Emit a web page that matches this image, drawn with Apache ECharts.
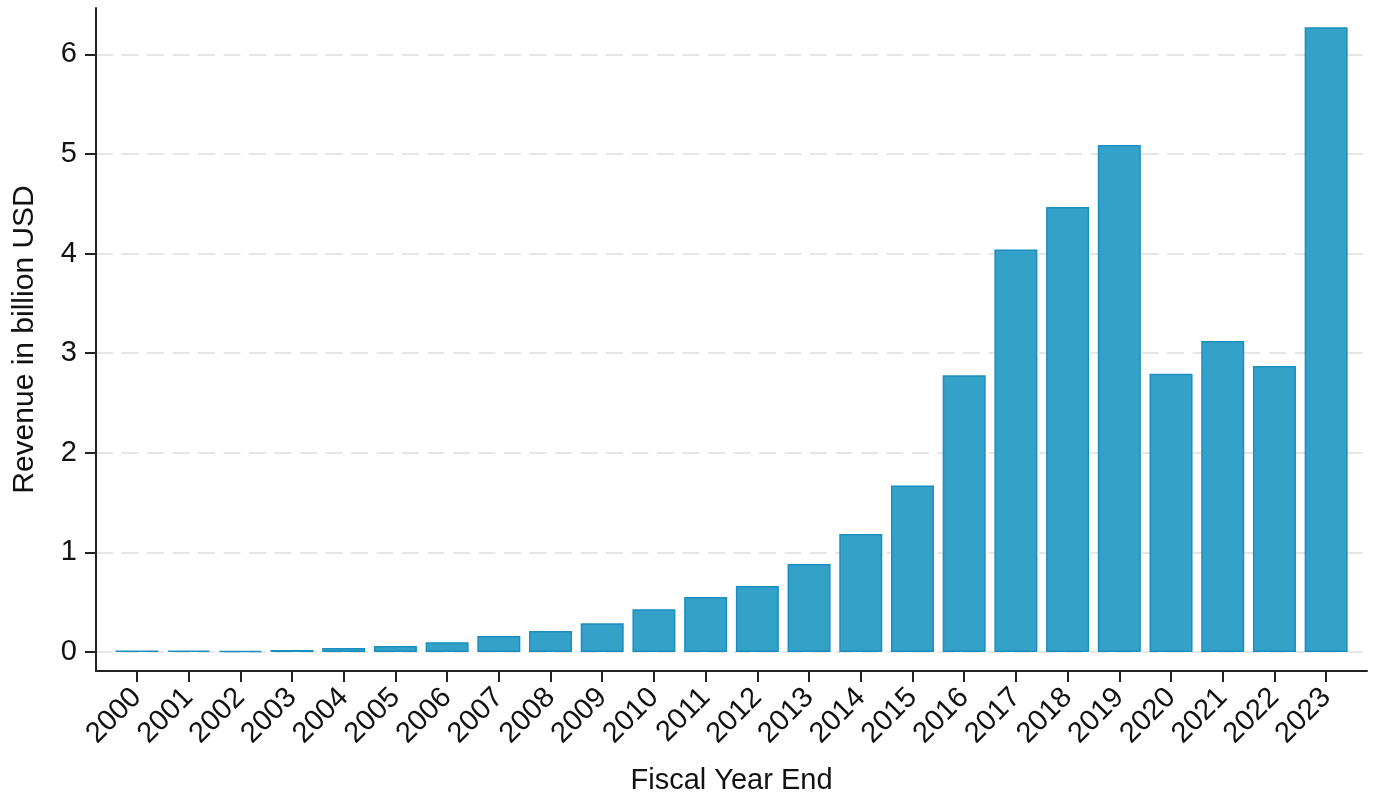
<!DOCTYPE html>
<html>
<head>
<meta charset="utf-8">
<script src="https://cdn.jsdelivr.net/npm/echarts@6/dist/echarts.min.js"></script>
<style>
html,body{margin:0;padding:0;background:#fff;}
#chart{width:1376px;height:797px;}
</style>
</head>
<body>
<div id="chart"></div>
<script>
const years = [2000,2001,2002,2003,2004,2005,2006,2007,2008,2009,2010,2011,2012,2013,2014,2015,2016,2017,2018,2019,2020,2021,2022,2023];
const revenue = [0.016,0.014,0.011,0.019,0.040,0.060,0.097,0.161,0.211,0.288,0.429,0.552,0.663,0.884,1.185,1.671,2.779,4.041,4.468,5.089,2.794,3.123,2.872,6.271];
const yTicks = [0,1,2,3,4,5,6];

const FONT = '"Liberation Sans", Arial, Helvetica, sans-serif';
const chart = echarts.init(document.getElementById('chart'), null, {renderer:'canvas'});
chart.setOption({
  animation:false,
  backgroundColor:'#ffffff',
  grid:{left:96, right:9, top:8, bottom:126, containLabel:false, outerBoundsMode:'none'},
  xAxis:{
    type:'value',
    min:1999.21, max:2023.79,
    name:'Fiscal Year End',
    nameLocation:'middle',
    nameGap:95,
    nameTextStyle:{fontSize:29, color:'#111', fontFamily:FONT},
    axisLine:{onZero:false, lineStyle:{color:'#222', width:2}},
    axisTick:{show:true, length:11, customValues:years, lineStyle:{color:'#222', width:2}},
    axisLabel:{customValues:years, rotate:45, fontSize:29, color:'#111', fontFamily:FONT, margin:22, formatter:v=>String(v)},
    splitLine:{show:false}
  },
  yAxis:{
    type:'value',
    min:-0.191, max:6.465,
    name:'Revenue in billion USD',
    nameLocation:'middle',
    nameGap:56,
    nameTextStyle:{fontSize:30, color:'#111', fontFamily:FONT},
    axisLine:{show:true, lineStyle:{color:'#222', width:2}},
    axisTick:{show:true, length:11, customValues:yTicks, lineStyle:{color:'#222', width:2}},
    axisLabel:{customValues:yTicks, fontSize:29, color:'#111', fontFamily:FONT, margin:19},
    splitLine:{show:true, lineStyle:{color:'#e6e6e6', width:2, type:[17,8.5]}}
  },
  series:[{
    type:'bar',
    data:years.map((y,i)=>[y, revenue[i]]),
    barWidth:43,
    itemStyle:{color:'#34A1C8', borderColor:'#1A8EC0', borderWidth:1.5}
  }]
});
</script>
</body>
</html>
